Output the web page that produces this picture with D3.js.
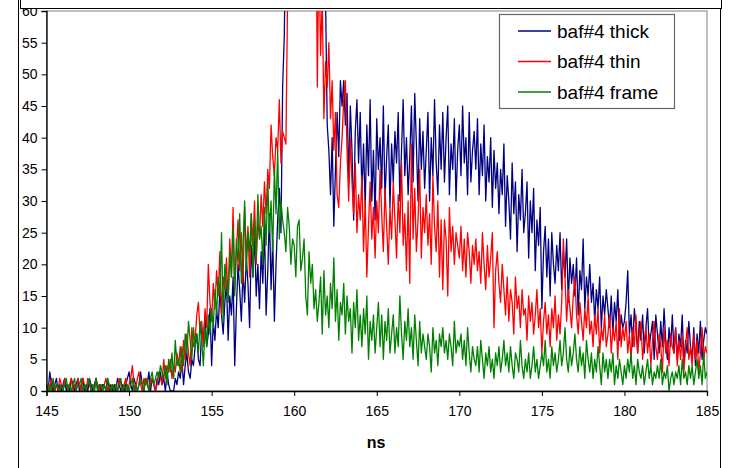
<!DOCTYPE html>
<html><head><meta charset="utf-8">
<script src="https://cdn.jsdelivr.net/npm/d3@7"></script>
<style>body{margin:0;background:#fff}svg{display:block}text{font-family:Arial,"Liberation Sans",sans-serif}</style>
</head><body>
<svg id="c" width="729" height="468"></svg>
<script>
const xStart = 145, xStep = 0.1;
const xTicks = [145,150,155,160,165,170,175,180,185];
const yTicks = [0,5,10,15,20,25,30,35,40,45,50,55,60];
const seriesNames = ["baf#4 thick","baf#4 thin","baf#4 frame"];
const thick = [
1,0,3,1,0,1,2,0,1,0, 1,2,0,1,0,2,1,0,1,2, 0,1,2,0,1,0,2,1,0,1, 2,0,1,0,1,1,0,2,0,1, 0,1,0,2,1,0,1,0,1,2,
3,1,0,2,1,0,1,3,1,0, 2,1,3,0,2,1,0,2,1,3, 1,2,0,3,1,0,0,0,2,1, 3,2,5,1,4,6,3,2,5,4, 7,9,5,4,10,8,12,7,9,13,
4,11,8,13,10,16,12,9,14,17, 8,15,12,18,4,13,20,16,11,19, 14,21,17,10,23,18,25,15,20,13, 22,17,26,12,19,28,16,24,11,20, 27,32,25,48,56,75,95,110,120,115,
118,122,125,119,121,124,117,123,120,116, 112,108,105,98,90,95,88,82,70,62, 42,38,31,40,26,35,44,37,49,45, 49,42,47,33,45,38,27,41,46,36, 44,31,39,29,42,34,46,30,38,27,
43,35,40,32,45,30,37,42,29,39, 33,41,36,44,30,38,46,34,40,31, 37,45,33,47,39,30,43,35,41,32, 38,44,30,40,34,46,36,31,42,35, 44,33,40,45,31,39,35,43,30,38,
42,34,45,36,40,31,44,33,38,41, 35,43,31,39,34,42,30,37,33,40, 29,38,32,36,28,35,31,39,26,34, 30,24,36,28,33,22,31,27,35,25, 28,33,21,30,25,32,19,27,23,29,
13,22,26,18,24,15,25,20,17,23, 19,25,16,22,18,24,14,21,17,20, 15,21,12,19,16,24,13,18,15,20, 14,17,11,16,13,18,10,15,12,16, 13,10,15,9,14,11,16,8,12,10,
11,14,19,9,12,7,13,10,6,11, 8,12,6,10,13,7,9,11,5,12, 9,6,11,7,13,8,5,10,7,12, 6,10,5,9,7,12,4,8,6,11, 7,5,10,4,9,6,11,5,8,10, 9];
const thin = [
0,1,0,2,1,0,1,0,2,1, 0,2,1,0,1,2,0,1,0,2, 1,0,2,1,0,2,1,0,1,0, 2,1,0,1,0,1,2,0,1,0, 1,0,1,0,2,1,0,1,2,0,
1,2,4,1,0,2,3,1,0,2, 1,2,0,1,2,1,0,1,3,2, 1,5,2,4,3,5,2,4,3,6, 4,7,3,8,5,9,6,4,10,7, 8,12,14,9,11,7,13,10,20,14,
11,17,13,19,15,22,12,18,16,21, 14,24,18,29,16,22,27,19,25,17, 29,21,26,18,28,23,30,20,27,24, 31,26,33,28,35,32,42,37,34,40, 38,46,36,41,40,39,62,85,100,110,
120,115,125,118,122,119,124,116,121,117, 110,105,95,85,48,70,53,62,43,52, 48,55,43,49,38,44,31,29,36,40, 46,49,38,30,40,33,28,36,25,31, 27,34,22,30,18,26,33,24,29,21,
30,25,35,28,22,32,26,20,29,24, 33,27,21,31,25,36,23,28,19,30, 17,39,24,32,22,27,35,21,29,25, 31,23,28,20,34,26,22,30,18,27, 16,27,24,15,29,22,26,20,25,23,
21,26,19,24,18,25,22,17,23,20, 24,19,22,17,25,20,16,23,18,21, 25,10,19,22,17,14,20,16,12,18, 11,16,14,9,18,13,15,10,16,12, 13,8,15,11,14,9,12,16,10,13,
6,11,14,9,12,7,13,10,15,8, 12,9,14,24,18,11,16,13,10,15, 18,12,9,14,11,8,13,10,15,9, 11,7,12,9,13,6,10,8,12,7, 9,12,6,10,8,11,5,13,7,10,
8,11,6,9,5,10,7,12,6,9, 11,5,8,10,6,9,4,8,11,7, 5,9,7,3,10,6,8,4,9,7, 6,10,4,8,5,9,3,7,10,5, 7,4,9,5,8,3,6,10,5,7, 6];
const frame = [
1,0,1,0,2,0,1,1,0,1, 0,1,2,0,1,0,1,2,0,1, 1,2,0,1,0,1,2,0,1,0, 2,0,1,1,0,1,0,2,1,0, 1,0,1,0,1,2,0,1,0,1,
0,1,2,0,1,0,1,2,1,0, 2,1,0,2,3,1,2,3,2,4, 3,2,4,1,5,3,6,2,8,4, 5,3,7,4,9,6,11,8,5,10, 7,9,6,11,8,4,10,7,12,9,
13,10,16,12,18,15,25,11,20,17, 14,22,18,26,15,24,20,28,17,23, 30,19,25,22,28,18,27,21,31,24, 26,20,29,23,33,25,30,22,35,28, 38,24,30,27,25,22,29,26,20,24,
23,18,26,27,19,21,24,15,12,22, 17,20,13,16,11,14,18,9,19,12, 15,10,17,13,21,11,16,8,14,12, 17,9,15,11,13,6,14,10,16,8, 12,7,13,9,15,5,11,8,12,6,
10,14,7,12,5,11,8,13,6,9, 12,6,10,7,15,9,5,11,8,13, 7,10,5,12,8,4,11,6,9,7, 5,9,7,3,10,6,8,4,9,7, 10,6,8,5,9,7,4,11,6,8,
7,9,5,8,4,10,6,3,7,5, 4,7,3,8,5,2,6,4,7,3, 5,2,6,4,7,3,5,8,4,6, 3,7,4,2,6,5,3,8,4,2, 5,3,6,2,4,7,3,5,2,4,
6,4,8,3,5,2,7,4,6,3, 5,8,4,6,10,5,3,7,4,6, 9,5,3,7,4,6,2,8,5,3, 6,2,5,3,7,4,1,6,3,5, 2,5,3,6,1,4,2,5,3,1,
4,2,5,3,6,2,4,1,5,3, 2,4,1,3,5,2,4,1,3,2, 4,2,5,1,3,2,4,0,2,3, 1,3,2,4,1,5,2,3,1,4, 2,4,1,3,5,2,4,1,6,2, 3];
const colors = ["#000080","#ff0000","#008000"];

const svg = d3.select("#c");
const L = 46.5, R = 707, T = 11, B = 391;
const x = d3.scaleLinear().domain([145,185]).range([L,R]);
const y = d3.scaleLinear().domain([0,60]).range([B,T]);

// chart frame
svg.append("line").attr("x1",18.5).attr("x2",18.5).attr("y1",0).attr("y2",468).attr("stroke","#000");
svg.append("line").attr("x1",720.5).attr("x2",720.5).attr("y1",0).attr("y2",468).attr("stroke","#000");

// plot area border
svg.append("rect").attr("x",L).attr("y",T).attr("width",R-L).attr("height",B-T)
  .attr("fill","none").attr("stroke","#808080");

const defs = svg.append("defs");
defs.append("clipPath").attr("id","clip").append("rect").attr("x",L).attr("y",T).attr("width",R-L).attr("height",B-T);

const line = d3.line().x((d,i)=>x(xStart + i*xStep)).y(d=>y(d));
const g = svg.append("g").attr("clip-path","url(#clip)");
[thick,thin,frame].forEach((s,k)=>{
  g.append("path").datum(s).attr("d",line).attr("fill","none")
   .attr("stroke",colors[k]).attr("stroke-width",1.3).attr("stroke-linejoin","round");
});

// axes
const yAxis = d3.axisLeft(y).tickValues(yTicks).tickSize(5).tickPadding(4);
const yg = svg.append("g").attr("transform",`translate(${L},0)`).call(yAxis);
const xAxis = d3.axisBottom(x).tickValues(xTicks).tickSize(5).tickPadding(10);
const xg = svg.append("g").attr("transform",`translate(0,${B})`).call(xAxis);
[yg,xg].forEach(a=>{
  a.attr("font-size",null).attr("font-family",null);
  a.select(".domain").attr("stroke","#000").attr("stroke-width",1.3);
  a.selectAll(".tick line").attr("stroke","#000");
  a.selectAll("text").style("font-size","14px").attr("fill","#000")
   .style("font-family","Arial, 'Liberation Sans', sans-serif");
});

svg.append("text").attr("x",376).attr("y",448).attr("text-anchor","middle")
  .style("font-size","16px").attr("font-weight","bold").text("ns");

// box above (covers top of chart)
svg.append("rect").attr("x",20.5).attr("y",-5).attr("width",701).attr("height",13.5)
  .attr("fill","#fff").attr("stroke","#000");

// legend
const lg = svg.append("g");
lg.append("rect").attr("x",499.5).attr("y",14.5).attr("width",175).attr("height",94)
  .attr("fill","#fff").attr("stroke","#666").attr("stroke-width",1.2);
seriesNames.forEach((n,k)=>{
  const yy = 31 + k*30.5;
  lg.append("line").attr("x1",518).attr("x2",551).attr("y1",yy).attr("y2",yy)
    .attr("stroke",colors[k]).attr("stroke-width",1.3);
  lg.append("text").attr("x",557).attr("y",yy+6.5).style("font-size","19px").attr("fill","#000").text(n);
});
</script>
</body></html>
